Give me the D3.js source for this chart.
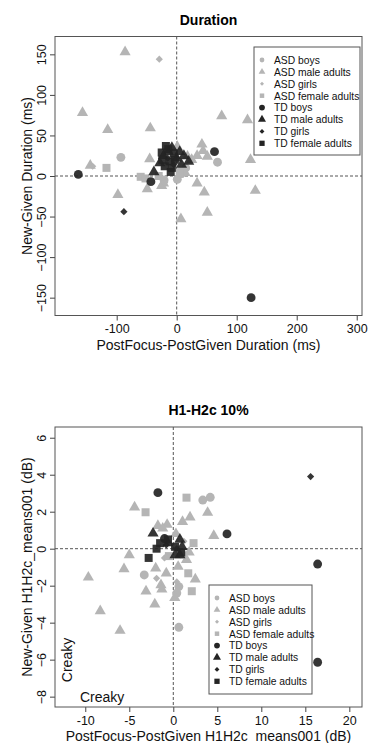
<!DOCTYPE html>
<html>
<head>
<meta charset="utf-8">
<script src="https://cdn.jsdelivr.net/npm/d3@7"></script>
<style>
  body { margin: 0; background: #fff; }
  svg { font-family: "Liberation Sans", Arial, sans-serif; }
</style>
</head>
<body>
<svg id="chart" width="370" height="743"></svg>
<script>
// ---- data: Duration panel (x = PostFocus-PostGiven, y = New-Given) ----
const groups = ["ASD boys", "ASD male adults", "ASD girls", "ASD female adults",
                "TD boys", "TD male adults", "TD girls", "TD female adults"];

const durAsdBoys = [[-93, 23], [68, 17], [-21, -5], [1, -4], [15, 10], [8, 3]];
const durAsdMaleAdults = [[-86, 153], [-157, 78], [-115, 57], [-44, 59], [-144, 13], [-45, 21],
  [75, 74], [118, 69], [123, 20], [1, 36], [42, 39], [18, 24], [34, 25], [51, 24], [44, 31],
  [-98, -23], [-49, -16], [-25, -12], [14, 4], [34, -9], [46, -20], [131, -18], [51, -45],
  [7, -53], [25, 20], [-22, -9]];
const durAsdGirls = [[-29, 144], [-140, 12], [-20, -8], [5, 8]];
const durAsdFemaleAdults = [[-117, 10], [-60, -1], [-52, -3], [12, 6], [-30, 0], [5, 3]];
const durTdBoys = [[-164, 2], [-43, -7], [63, 30], [124, -150]];
const durTdMaleAdults = [[-38, 5], [-22, 25], [-8, 35], [5, 30], [12, 25], [20, 18], [-28, 16],
  [0, 22], [-14, 30], [8, 14]];
const durTdGirls = [[-88, -44], [-15, 22], [-5, 14]];
const durTdFemaleAdults = [[-18, 37], [-25, 29], [-12, 18], [-5, 28], [-10, 5], [-20, 12], [-3, 20],
  [-14, 33], [-24, 20], [-8, 10]];

// ---- data: H1-H2c panel ----
const h1AsdBoys = [[3.35, 2.63], [4.2, 2.78], [-3.3, -1.42], [0.63, -2.05], [0.4, -2.4], [0.63, -4.25], [1.0, -0.3]];
const h1AsdMaleAdults = [[-4.4, 2.24], [3.9, 1.95], [1.05, 1.46], [1.9, 1.7], [-1.75, 1.24], [-0.7, 1.3],
  [-1.2, 1.1], [4.6, 0.7], [-5, -0.34], [-9.65, -1.55], [-5.6, -1.1], [-2.0, -1.06], [-0.8, -1.33],
  [-1.4, -1.96], [-1.3, -2.2], [-3.1, -2.3], [-2.1, -3.0], [-8.3, -3.37], [-6.05, -4.43],
  [0.17, -2.65], [2.5, -1.65], [0.55, -0.97], [1.8, -0.2], [0.3, 0.8], [1.5, -0.6]];
const h1AsdGirls = [[-1.9, -1.6], [0.4, -1.8], [-1.0, -0.5], [1.2, 0.4]];
const h1AsdFemaleAdults = [[1.5, 2.76], [-3.15, 1.97], [2.3, 0.3], [1.7, -1.33], [2.1, -2.3], [-0.5, -0.4]];
const h1TdBoys = [[-1.75, 3.03], [6.1, 0.8], [16.4, -0.83], [16.4, -6.14], [-1.0, 0.55]];
const h1TdMaleAdults = [[-2.3, 0.83], [0.75, 0.5], [0.2, -0.34], [0.75, -0.34], [-0.6, 0.3], [1.0, 0.1]];
const h1TdGirls = [[15.6, 3.9], [-0.8, 0.2], [0.4, 0.0]];
const h1TdFemaleAdults = [[-1.9, 0.0], [-2.8, -0.5], [-1.5, 0.3], [0.2, 0.1], [0.9, -0.2], [-0.6, 0.5]];

const durXTicks = [-100, 0, 100, 200, 300];
const durYTicks = [-150, -100, -50, 0, 50, 100, 150];
const h1XTicks = [-10, -5, 0, 5, 10, 15, 20];
const h1YTicks = [-8, -6, -4, -2, 0, 2, 4, 6];

// R pch 18 style diamond (square rotated 45deg)
const rDiamond = {
  draw(ctx, size) {
    const r = Math.sqrt(size / 2);
    ctx.moveTo(0, -r); ctx.lineTo(r, 0); ctx.lineTo(0, r); ctx.lineTo(-r, 0); ctx.closePath();
  }
};
const shapes = [d3.symbolCircle, d3.symbolTriangle, rDiamond, d3.symbolSquare];
const sizes = [62, 54, 26, 64];      // plot symbol areas
const legSizesAsd = [18, 20, 8, 20];
const legSizesTd = [26, 28, 12, 28];
const gray = "#b5b5b5", dark = "#242424";

const svg = d3.select("#chart");

function drawPanel(cfg) {
  const x = d3.scaleLinear().domain(cfg.xDomain).range([cfg.left, cfg.right]);
  const y = d3.scaleLinear().domain(cfg.yDomain).range([cfg.bottom, cfg.top]);
  const g = svg.append("g");

  g.append("text").attr("x", (cfg.left + cfg.right) / 2).attr("y", cfg.top - 12)
    .attr("text-anchor", "middle").attr("font-weight", "bold").attr("font-size", 14)
    .text(cfg.title);

  // zero reference lines
  g.append("line").attr("x1", x(0)).attr("x2", x(0)).attr("y1", cfg.top).attr("y2", cfg.bottom)
    .attr("stroke", "#555").attr("stroke-dasharray", "3,2");
  g.append("line").attr("x1", cfg.left).attr("x2", cfg.right).attr("y1", y(0)).attr("y2", y(0))
    .attr("stroke", "#555").attr("stroke-dasharray", "3,2");

  // points: ASD first (gray), TD on top (dark)
  cfg.series.forEach((pts, i) => {
    const sym = d3.symbol().type(shapes[i % 4]).size(sizes[i % 4]);
    g.selectAll(null).data(pts).enter().append("path")
      .attr("d", sym)
      .attr("transform", d => `translate(${x(d[0])},${y(d[1])})`)
      .attr("fill", i < 4 ? gray : dark)
      .attr("fill-opacity", i < 4 ? 1 : 0.92);
  });

  // axes
  const xa = g.append("g").attr("transform", `translate(0,${cfg.bottom})`)
    .call(d3.axisBottom(x).tickValues(cfg.xTicks).tickSize(5).tickPadding(4));
  const ya = g.append("g").attr("transform", `translate(${cfg.left},0)`)
    .call(d3.axisLeft(y).tickValues(cfg.yTicks).tickSize(5));
  [xa, ya].forEach(a => {
    a.select(".domain").remove();
    a.selectAll("line").attr("stroke", "#444");
    a.selectAll("text").attr("font-size", 12.5).attr("fill", "#111")
      .attr("font-family", "'Liberation Sans', Arial, sans-serif");
  });
  xa.selectAll("text").text(d => String(d).replace("-", "-"));
  ya.selectAll("text")
    .attr("x", null).attr("dy", null)
    .attr("text-anchor", "middle")
    .attr("transform", "translate(-9,0) rotate(-90)");

  g.append("rect").attr("x", cfg.left).attr("y", cfg.top)
    .attr("width", cfg.right - cfg.left).attr("height", cfg.bottom - cfg.top)
    .attr("fill", "none").attr("stroke", "#555").attr("stroke-width", 1);

  g.append("text").attr("x", (cfg.left + cfg.right) / 2).attr("y", cfg.bottom + 34)
    .attr("text-anchor", "middle").attr("font-size", 14).attr("fill", "#111").text(cfg.xLabel);
  g.append("text").attr("transform", `translate(32,${(cfg.top + cfg.bottom) / 2}) rotate(-90)`)
    .attr("text-anchor", "middle").attr("font-size", 14).attr("fill", "#111").text(cfg.yLabel);

  // legend
  const L = cfg.legend;
  g.append("rect").attr("x", L.x).attr("y", L.y).attr("width", L.w).attr("height", L.h)
    .attr("fill", "#fff").attr("stroke", "#555");
  groups.forEach((name, i) => {
    const cy = L.y + 13 + i * L.step;
    const sym = d3.symbol().type(shapes[i % 4]).size(i < 4 ? legSizesAsd[i] : legSizesTd[i % 4]);
    g.append("path").attr("d", sym).attr("transform", `translate(${L.x + 8},${cy})`)
      .attr("fill", i < 4 ? gray : dark);
    g.append("text").attr("x", L.x + 20).attr("y", cy + 3.8).attr("font-size", 10.3)
      .attr("fill", "#111").text(name);
  });
  return { x, y, g };
}

drawPanel({
  title: "Duration",
  left: 55, right: 362, top: 36.5, bottom: 315.5,
  xDomain: [-202.8, 308.8], yDomain: [-172, 172],
  xTicks: durXTicks, yTicks: durYTicks,
  xLabel: "PostFocus-PostGiven Duration (ms)",
  yLabel: "New-Given Duration (ms)",
  series: [durAsdBoys, durAsdMaleAdults, durAsdGirls, durAsdFemaleAdults,
           durTdBoys, durTdMaleAdults, durTdGirls, durTdFemaleAdults],
  legend: { x: 254, y: 47, w: 106, h: 108, step: 11.9 }
});

const p2 = drawPanel({
  title: "H1-H2c 10%",
  left: 55, right: 362, top: 427, bottom: 707,
  xDomain: [-13.44, 21.44], yDomain: [-8.56, 6.58],
  xTicks: h1XTicks, yTicks: h1YTicks,
  xLabel: "PostFocus-PostGiven H1H2c_means001 (dB)",
  yLabel: "New-Given H1H2c_means001 (dB)",
  series: [h1AsdBoys, h1AsdMaleAdults, h1AsdGirls, h1AsdFemaleAdults,
           h1TdBoys, h1TdMaleAdults, h1TdGirls, h1TdFemaleAdults],
  legend: { x: 209, y: 585, w: 103, h: 109, step: 11.9 }
});

// "Creaky" annotations
p2.g.append("text").attr("transform", "translate(72,660) rotate(-90)")
  .attr("text-anchor", "middle").attr("font-size", 14).attr("fill", "#111").text("Creaky");
p2.g.append("text").attr("x", 80).attr("y", 702)
  .attr("font-size", 14).attr("fill", "#111").text("Creaky");
</script>
</body>
</html>
